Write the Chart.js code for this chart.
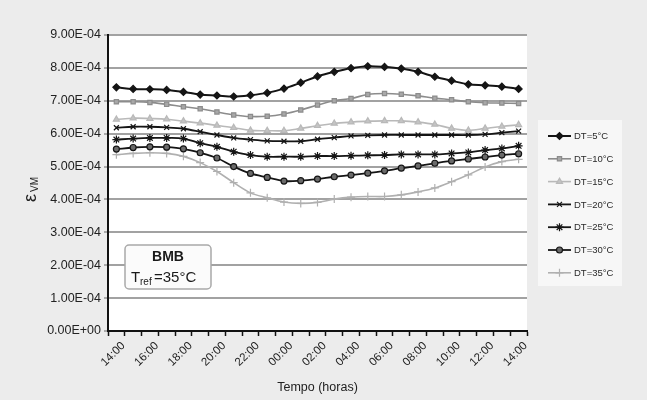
<!DOCTYPE html>
<html>
<head>
<meta charset="utf-8">
<script src="https://cdn.jsdelivr.net/npm/chart.js@4/dist/chart.umd.min.js"></script>
<style>
    html, body { margin: 0; padding: 0; background: #ececec; }
    #wrap { width: 647px; height: 400px; }
</style>
</head>
<body>
<div id="wrap"><canvas id="chart" width="647" height="400"></canvas></div>
<script>
const hours = ["14:00", "15:00", "16:00", "17:00", "18:00", "19:00", "20:00", "21:00", "22:00", "23:00",
    "00:00", "01:00", "02:00", "03:00", "04:00", "05:00", "06:00", "07:00", "08:00", "09:00",
    "10:00", "11:00", "12:00", "13:00", "14:00"];

const seriesNames = ["DT=5°C", "DT=10°C", "DT=15°C", "DT=20°C", "DT=25°C", "DT=30°C", "DT=35°C"];

const dt5 = [7.41e-4, 7.36e-4, 7.35e-4, 7.33e-4, 7.27e-4, 7.19e-4, 7.16e-4, 7.13e-4, 7.17e-4, 7.24e-4,
    7.37e-4, 7.55e-4, 7.74e-4, 7.88e-4, 7.99e-4, 8.05e-4, 8.03e-4, 7.98e-4, 7.88e-4, 7.73e-4,
    7.61e-4, 7.50e-4, 7.47e-4, 7.43e-4, 7.36e-4];
const dt10 = [6.97e-4, 6.97e-4, 6.95e-4, 6.89e-4, 6.82e-4, 6.76e-4, 6.66e-4, 6.57e-4, 6.52e-4, 6.53e-4,
    6.60e-4, 6.72e-4, 6.87e-4, 7.00e-4, 7.07e-4, 7.19e-4, 7.22e-4, 7.20e-4, 7.15e-4, 7.08e-4,
    7.03e-4, 6.97e-4, 6.94e-4, 6.93e-4, 6.92e-4];
const dt15 = [6.43e-4, 6.47e-4, 6.46e-4, 6.44e-4, 6.38e-4, 6.32e-4, 6.25e-4, 6.18e-4, 6.10e-4, 6.09e-4,
    6.09e-4, 6.16e-4, 6.24e-4, 6.31e-4, 6.35e-4, 6.38e-4, 6.39e-4, 6.39e-4, 6.35e-4, 6.28e-4,
    6.16e-4, 6.10e-4, 6.16e-4, 6.22e-4, 6.27e-4];
const dt20 = [6.18e-4, 6.21e-4, 6.21e-4, 6.19e-4, 6.15e-4, 6.06e-4, 5.96e-4, 5.87e-4, 5.82e-4, 5.78e-4,
    5.77e-4, 5.77e-4, 5.83e-4, 5.88e-4, 5.93e-4, 5.95e-4, 5.96e-4, 5.96e-4, 5.96e-4, 5.96e-4,
    5.96e-4, 5.96e-4, 5.98e-4, 6.03e-4, 6.08e-4];
const dt25 = [5.82e-4, 5.85e-4, 5.87e-4, 5.87e-4, 5.85e-4, 5.71e-4, 5.60e-4, 5.45e-4, 5.35e-4, 5.30e-4,
    5.30e-4, 5.30e-4, 5.32e-4, 5.32e-4, 5.33e-4, 5.34e-4, 5.35e-4, 5.37e-4, 5.37e-4, 5.37e-4,
    5.40e-4, 5.43e-4, 5.50e-4, 5.55e-4, 5.63e-4];
const dt30 = [5.53e-4, 5.58e-4, 5.60e-4, 5.59e-4, 5.54e-4, 5.42e-4, 5.26e-4, 5.00e-4, 4.79e-4, 4.67e-4,
    4.56e-4, 4.57e-4, 4.62e-4, 4.69e-4, 4.74e-4, 4.80e-4, 4.87e-4, 4.95e-4, 5.02e-4, 5.10e-4,
    5.17e-4, 5.23e-4, 5.29e-4, 5.35e-4, 5.39e-4];
const dt35 = [5.36e-4, 5.40e-4, 5.42e-4, 5.40e-4, 5.31e-4, 5.12e-4, 4.85e-4, 4.51e-4, 4.20e-4, 4.05e-4,
    3.92e-4, 3.88e-4, 3.91e-4, 4.01e-4, 4.07e-4, 4.09e-4, 4.09e-4, 4.14e-4, 4.23e-4, 4.35e-4,
    4.54e-4, 4.75e-4, 4.99e-4, 5.15e-4, 5.22e-4];

const seriesValues = [dt5, dt10, dt15, dt20, dt25, dt30, dt35];

const FONT = "'Liberation Sans', Arial, sans-serif";
const NARROW = "'Liberation Sans Narrow', 'Liberation Sans', Arial, sans-serif";

// line colour, marker style, marker fill, marker size
const looks = [
    { color: "#151515", marker: "rectRot", fill: "#151515", r: 3.5, width: 2 },
    { color: "#8c8c8c", marker: "rect", fill: "#a8a8a8", r: 3, width: 1.6 },
    { color: "#b9b9b9", marker: "triangle", fill: "#c4c4c4", r: 3.5, width: 1.6 },
    { color: "#151515", marker: "crossRot", fill: "#151515", r: 3.5, width: 1.8 },
    { color: "#151515", marker: "star", fill: "#151515", r: 4, width: 1.8 },
    { color: "#151515", marker: "circle", fill: "#6a6a6a", r: 3, width: 1.8 },
    { color: "#b0b0b0", marker: "cross", fill: "#b0b0b0", r: 4, width: 1.6 },
];

function sciLabel(v) {
    const parts = Number(v).toExponential(2).split("e");
    const e = parseInt(parts[1], 10);
    return parts[0] + "E" + (e < 0 ? "-" : "+") + String(Math.abs(e)).padStart(2, "0");
}

const whitePlot = {
    id: "whitePlot",
    beforeDraw(chart) {
        const { ctx, chartArea: a } = chart;
        ctx.save();
        ctx.fillStyle = "#ffffff";
        ctx.fillRect(a.left, a.top, a.right - a.left, a.bottom - a.top);
        ctx.restore();
    },
};

const extras = {
    id: "extras",
    afterDraw(chart) {
        const ctx = chart.ctx;
        ctx.save();

        // y axis title: epsilon with VM subscript
        ctx.translate(31, 190);
        ctx.rotate(-Math.PI / 2);
        ctx.fillStyle = "#222";
        ctx.textBaseline = "middle";
        ctx.textAlign = "left";
        ctx.font = "18px " + FONT;
        ctx.fillText("ε", -12, 0);
        ctx.font = "10px " + FONT;
        ctx.fillText("VM", -2, 4);
        ctx.setTransform(1, 0, 0, 1, 0, 0);

        // BMB box
        ctx.beginPath();
        ctx.roundRect(125, 245, 86, 44, 4);
        ctx.fillStyle = "#fbfbfb";
        ctx.fill();
        ctx.strokeStyle = "#a9a9a9";
        ctx.lineWidth = 1.5;
        ctx.stroke();
        ctx.fillStyle = "#1a1a1a";
        ctx.textAlign = "center";
        ctx.textBaseline = "middle";
        ctx.font = "bold 14px " + FONT;
        ctx.fillText("BMB", 168, 257);
        ctx.textAlign = "left";
        ctx.font = "15px " + FONT;
        ctx.fillText("T", 131, 278);
        ctx.font = "10px " + FONT;
        ctx.fillText("ref", 140, 282);
        ctx.font = "15px " + FONT;
        ctx.fillText("=35°C", 154, 278);

        // legend
        ctx.fillStyle = "#f7f7f7";
        ctx.fillRect(538, 120, 84, 166);
        chart.data.datasets.forEach((ds, i) => {
            const y = 136 + i * 22.8;
            ctx.strokeStyle = ds.borderColor;
            ctx.lineWidth = ds.borderWidth;
            ctx.beginPath();
            ctx.moveTo(548, y);
            ctx.lineTo(571, y);
            ctx.stroke();
            ctx.fillStyle = ds.pointBackgroundColor;
            ctx.strokeStyle = ds.pointBorderColor;
            ctx.lineWidth = 1.2;
            Chart.helpers.drawPoint(ctx, { pointStyle: ds.pointStyle, radius: ds.pointRadius, rotation: 0, borderWidth: 1.2 }, 559.5, y);
            ctx.fillStyle = "#2a2a2a";
            ctx.font = "9.5px " + NARROW;
            ctx.textAlign = "left";
            ctx.textBaseline = "middle";
            ctx.fillText(ds.label, 574, y + 0.5);
        });
        ctx.restore();
    },
};

new Chart(document.getElementById("chart"), {
    type: "line",
    data: {
        labels: hours,
        datasets: seriesValues.map((vals, i) => ({
            label: seriesNames[i],
            data: vals,
            borderColor: looks[i].color,
            borderWidth: looks[i].width,
            pointStyle: looks[i].marker,
            pointRadius: looks[i].r,
            pointBackgroundColor: looks[i].fill,
            pointBorderColor: looks[i].color,
            pointBorderWidth: 1.2,
            tension: 0.35,
            fill: false,
        })),
    },
    options: {
        responsive: false,
        animation: false,
        events: [],
        layout: { padding: { top: 35, right: 120, left: 0, bottom: 0 } },
        plugins: {
            legend: { display: false },
            tooltip: { enabled: false },
        },
        scales: {
            x: {
                offset: true,
                grid: { offset: true, drawOnChartArea: false, drawTicks: true, tickLength: 5, tickColor: "#111", tickWidth: 1.5 },
                border: { color: "#111", width: 2 },
                ticks: {
                    autoSkip: false,
                    maxRotation: 45,
                    minRotation: 45,
                    padding: 3,
                    labelOffset: 7,
                    color: "#222",
                    font: { family: FONT, size: 11.5 },
                    callback: (v, i) => (i % 2 === 0 ? hours[i] : ""),
                },
                title: {
                    display: true,
                    text: "Tempo (horas)",
                    color: "#222",
                    font: { family: FONT, size: 12.5 },
                    padding: { top: 0, bottom: 5 },
                },
                afterFit: (s) => { s.height = 69; },
            },
            y: {
                min: 0,
                max: 9e-4,
                ticks: {
                    stepSize: 1e-4,
                    color: "#222",
                    font: { family: FONT, size: 12.5 },
                    padding: 3,
                    callback: (v) => sciLabel(v),
                },
                grid: { color: "#a2a2a2", lineWidth: 2, tickLength: 4, tickColor: "#666", tickWidth: 1 },
                border: { color: "#111", width: 2 },
                afterFit: (s) => { s.width = 108; },
            },
        },
    },
    plugins: [whitePlot, extras],
});
</script>
</body>
</html>
